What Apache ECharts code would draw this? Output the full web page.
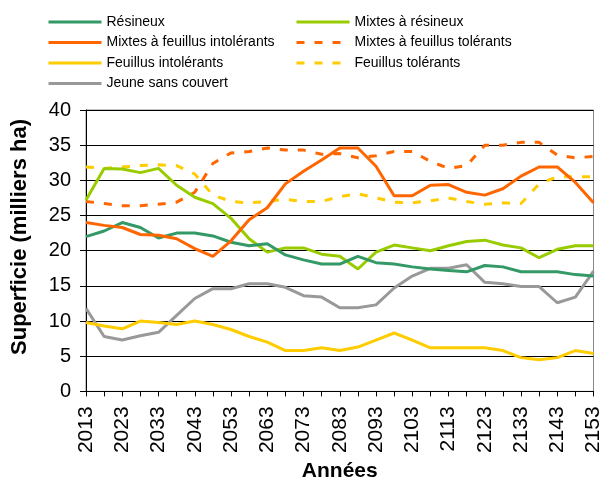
<!DOCTYPE html>
<html>
<head>
<meta charset="utf-8">
<script src="https://cdn.jsdelivr.net/npm/echarts@6/dist/echarts.min.js"></script>
<style>html,body{margin:0;padding:0;background:#fff}#c{width:604px;height:487px}</style>
</head>
<body>
<div id="c"></div>
<script>
const years = ['2013','2018','2023','2028','2033','2038','2043','2048','2053','2058','2063','2068','2073','2078','2083','2088','2093','2098','2103','2108','2113','2118','2123','2128','2133','2138','2143','2148','2153'];
const resineux = [22.0, 22.8, 24.0, 23.3, 21.8, 22.5, 22.5, 22.1, 21.2, 20.7, 21.0, 19.4, 18.7, 18.1, 18.1, 19.2, 18.3, 18.1, 17.7, 17.4, 17.2, 17.0, 17.9, 17.7, 17.0, 17.0, 17.0, 16.6, 16.4];
const mixtesResineux = [27.2, 31.7, 31.6, 31.1, 31.7, 29.3, 27.6, 26.7, 24.6, 21.7, 19.8, 20.4, 20.4, 19.5, 19.2, 17.4, 19.8, 20.8, 20.4, 20.0, 20.7, 21.3, 21.5, 20.8, 20.4, 19.0, 20.2, 20.7, 20.7];
const mixtesFeuIntol = [24.0, 23.6, 23.3, 22.3, 22.2, 21.7, 20.3, 19.2, 21.4, 24.4, 26.1, 29.5, 31.3, 32.9, 34.6, 34.6, 32.0, 27.8, 27.8, 29.3, 29.4, 28.3, 27.9, 28.8, 30.6, 31.9, 31.9, 29.7, 26.8];
const mixtesFeuTol = [27.0, 26.7, 26.4, 26.4, 26.6, 26.9, 28.3, 32.4, 33.9, 34.1, 34.6, 34.3, 34.3, 33.7, 33.8, 33.2, 33.5, 34.1, 34.1, 32.7, 31.7, 32.1, 35.0, 35.0, 35.4, 35.4, 33.6, 33.2, 33.4];
const feuillusIntol = [9.8, 9.3, 8.9, 10.0, 9.8, 9.5, 10.0, 9.5, 8.8, 7.8, 7.0, 5.8, 5.8, 6.2, 5.8, 6.3, 7.3, 8.3, 7.3, 6.2, 6.2, 6.2, 6.2, 5.8, 4.8, 4.5, 4.8, 5.8, 5.4];
const feuillusTol = [31.9, 31.7, 31.9, 32.1, 32.2, 32.1, 30.9, 27.9, 27.0, 26.8, 27.0, 27.3, 27.0, 27.0, 27.7, 28.1, 27.5, 26.9, 26.8, 27.1, 27.5, 27.0, 26.6, 26.8, 26.7, 29.5, 30.5, 30.5, 30.5];
const jeune = [11.8, 7.8, 7.3, 7.9, 8.4, 10.8, 13.2, 14.6, 14.6, 15.3, 15.3, 14.8, 13.6, 13.4, 11.9, 11.9, 12.3, 14.7, 16.4, 17.5, 17.5, 18.0, 15.5, 15.3, 14.9, 14.9, 12.6, 13.4, 17.1];

const FONT = '"Liberation Sans", Arial, sans-serif';
const dash = [8, 10];
function mk(name, data, color, dashed) {
  return {
    name: name, type: 'line', data: data, symbol: 'none', showSymbol: false,
    lineStyle: { color: color, width: 3, type: dashed ? dash : 'solid' },
    itemStyle: { color: color }, emphasis: { disabled: true }, animation: false
  };
}
const legendCommon = {
  orient: 'vertical', itemWidth: 53, itemHeight: 14, itemGap: 6.5,
  itemStyle: { opacity: 0 },
  lineStyle: { width: 3 },
  textStyle: { fontFamily: FONT, fontSize: 14, color: '#000', lineHeight: 14 },
  selectedMode: false, padding: 0
};
const chart = echarts.init(document.getElementById('c'), null, { renderer: 'canvas' });
chart.setOption({
  animation: false,
  backgroundColor: '#fff',
  legend: [
    Object.assign({ left: 47, top: 15, data: ['Résineux', 'Mixtes à feuillus intolérants', 'Feuillus intolérants', 'Jeune sans couvert'] }, legendCommon),
    Object.assign({ left: 295, top: 15, data: ['Mixtes à résineux', 'Mixtes à feuillus tolérants', 'Feuillus tolérants'] }, legendCommon)
  ],
  grid: { left: 86, right: 9, top: 110, bottom: 83, show: true, borderColor: '#888', borderWidth: 1, backgroundColor: 'transparent' },
  xAxis: {
    type: 'category', data: years, boundaryGap: false,
    name: 'Années', nameLocation: 'middle', nameGap: 68,
    nameTextStyle: { fontFamily: FONT, fontSize: 21, fontWeight: 'bold', color: '#000' },
    axisLine: { lineStyle: { color: '#000', width: 1 } },
    axisTick: { show: true, interval: 0, length: 5, lineStyle: { color: '#000' } },
    axisLabel: { interval: 1, rotate: 90, margin: 15, fontFamily: FONT, fontSize: 21, color: '#000' },
    splitLine: { show: false }
  },
  yAxis: {
    type: 'value', min: 0, max: 40, interval: 5,
    axisLine: { show: true, lineStyle: { color: '#000', width: 1 } },
    axisTick: { show: true, length: 6, lineStyle: { color: '#000' } },
    axisLabel: { margin: 15, fontFamily: FONT, fontSize: 20, color: '#000' },
    splitLine: { show: true, lineStyle: { color: '#000', width: 1 } }
  },
  graphic: [{
    type: 'text', x: 20, y: 237, rotation: Math.PI / 2,
    style: { text: 'Superficie (milliers ha)', font: 'bold 22px ' + FONT, fill: '#000', align: 'center', verticalAlign: 'middle' }
  }],
  series: [
    mk('Jeune sans couvert', jeune, '#999999', false),
    mk('Feuillus tolérants', feuillusTol, '#FFCC00', true),
    mk('Feuillus intolérants', feuillusIntol, '#FFCC00', false),
    mk('Mixtes à feuillus tolérants', mixtesFeuTol, '#FF6600', true),
    mk('Mixtes à résineux', mixtesResineux, '#99CC00', false),
    mk('Résineux', resineux, '#339966', false),
    mk('Mixtes à feuillus intolérants', mixtesFeuIntol, '#FF6600', false)
  ]
});
</script>
</body>
</html>
